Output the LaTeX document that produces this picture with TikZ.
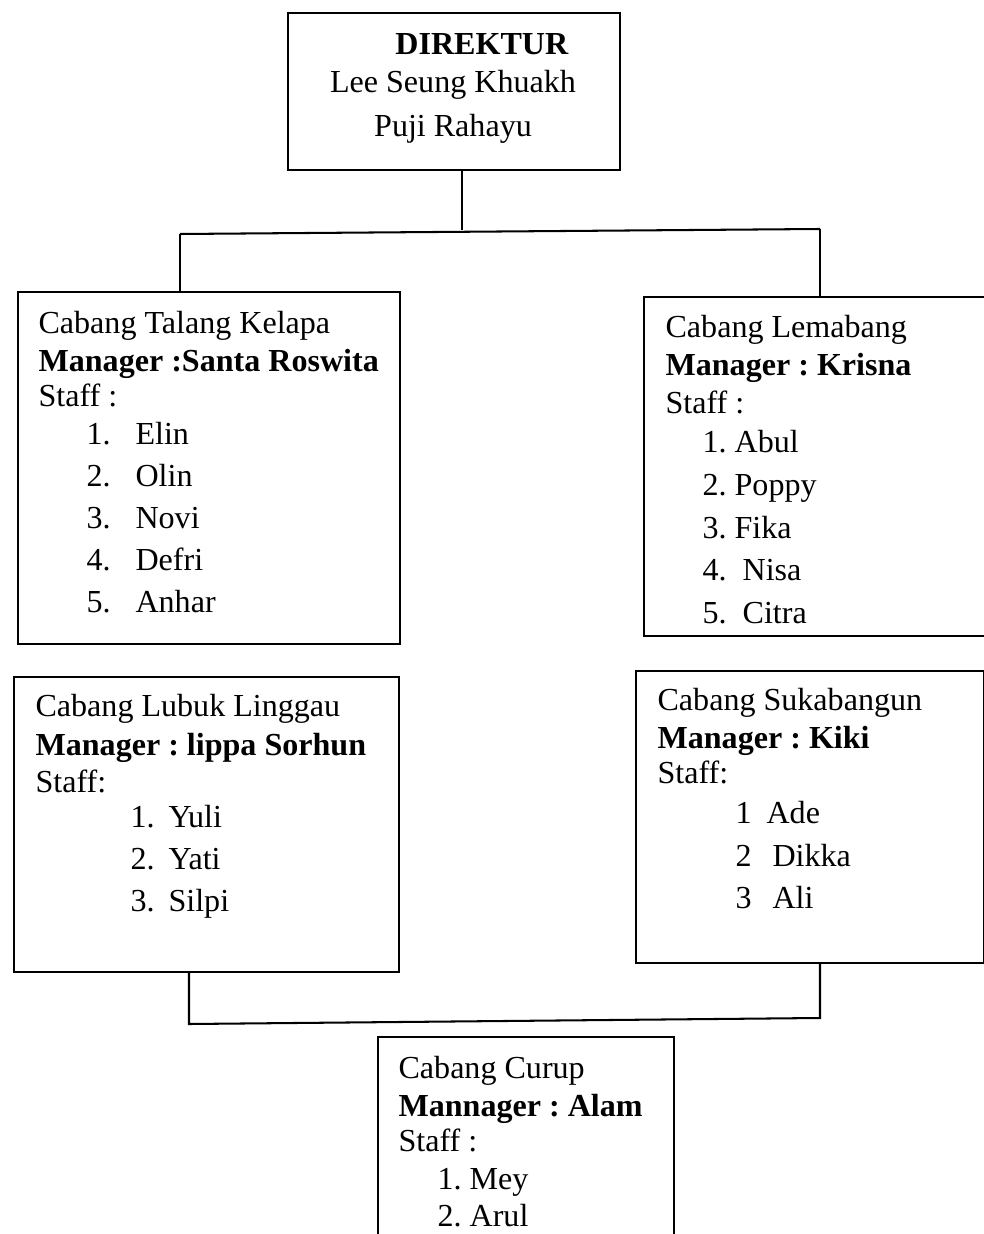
\documentclass[tikz,border=0pt]{standalone}
\usepackage{fontspec}
\setmainfont{Liberation Serif}
\usetikzlibrary{positioning}
\newdimen\px \px=0.343pt
\newcommand{\listrow}[4]{\hspace*{#1\px}\makebox[#2\px][l]{#3}#4}

\tikzset{
  branch/.style={draw, line width=0.7pt, anchor=north west, inner sep=0pt},
  lines/.style={anchor=north west, inner sep=0pt, align=left,
    font=\fontsize{11}{12.9}\selectfont\frenchspacing},
  link/.style={line width=0.7pt},
}

\begin{document}
\begin{tikzpicture}[x=0.343pt, y=-0.343pt]
		%%%%% START %%%%%
		\useasboundingbox (0,0) rectangle (984,1234);
		
		% direktur
		\node[branch, minimum width=332\px, minimum height=157\px] (direktur) at (287,12) {};
		\node[lines, align=center, anchor=north] (direktur-txt) at (453,33)
		  {\hspace*{58\px}\textbf{DIREKTUR}\\ Lee Seung Khuakh\\[2.2pt] Puji Rahayu};
		
		% cabang atas
		\node[branch, minimum width=382\px, minimum height=352\px] (talang) at (17,291) {};
		\node[lines] (talang-txt) at (38,311)
		  {Cabang Talang Kelapa\\ \textbf{Manager :Santa Roswita}\\[-1pt] Staff :\\[0.3pt]
		   \listrow{48}{49}{1.}{Elin}\\[1.5pt] \listrow{48}{49}{2.}{Olin}\\[1.5pt]
		   \listrow{48}{49}{3.}{Novi}\\[1.5pt] \listrow{48}{49}{4.}{Defri}\\[1.5pt]
		   \listrow{48}{49}{5.}{Anhar}};
		
		\node[branch, minimum width=350\px, minimum height=339\px] (lemabang) at (643,296) {};
		\node[lines] (lemabang-txt) at (665,315)
		  {Cabang Lemabang\\ \textbf{Manager : Krisna}\\ Staff :\\[0.8pt]
		   \hspace*{37\px}1. Abul\\[1.7pt] \hspace*{37\px}2. Poppy\\[1.7pt]
		   \hspace*{37\px}3. Fika\\[1.7pt] \hspace*{37\px}4.\ \ Nisa\\[1.7pt]
		   \hspace*{37\px}5.\ \ Citra};
		
		% cabang tengah
		\node[branch, minimum width=385\px, minimum height=295\px] (linggau) at (13,676) {};
		\node[lines] (linggau-txt) at (35,694)
		  {Cabang Lubuk Linggau\\[0.3pt] \textbf{Manager : lippa Sorhun}\\ Staff:\\[-0.9pt]
		   \listrow{95}{38}{1.}{Yuli}\\[1.2pt] \listrow{95}{38}{2.}{Yati}\\[1.5pt]
		   \listrow{95}{38}{3.}{Silpi}};
		
		\node[branch, minimum width=348\px, minimum height=292\px] (sukabangun) at (635,670) {};
		\node[lines] (sukabangun-txt) at (657,688)
		  {Cabang Sukabangun\\ \textbf{Manager : Kiki}\\[-0.9pt] Staff:\\[0.8pt]
		   \listrow{78}{31}{1}{Ade}\\[1.8pt] \listrow{78}{37}{2}{Dikka}\\[1.5pt]
		   \listrow{78}{37}{3}{Ali}};
		
		% cabang bawah
		\node[branch, minimum width=296\px, minimum height=240\px] (curup) at (377,1036) {};
		\node[lines] (curup-txt) at (398,1056)
		  {Cabang Curup\\ \textbf{Mannager : Alam}\\[-0.9pt] Staff :\\
		   \hspace*{39\px}1. Mey\\[-0.2pt] \hspace*{39\px}2. Arul};
		
		% garis
		\coordinate (split) at (462,230);
		\coordinate (splitL) at (180,234);
		\coordinate (splitR) at (820,229);
		\draw[link] (direktur.south -| split) -- (split);
		\draw[link] (splitL) -- (splitR);
		\draw[link] (splitL) -- (splitL |- talang.north);
		\draw[link] (splitR) -- (splitR |- lemabang.north);
		
		\coordinate (joinL) at (189,1024);
		\coordinate (joinR) at (820,1018);
		\draw[link] (linggau.south -| joinL) -- (joinL) -- (joinR) -- (joinR |- sukabangun.south);
		
		%%%%% END %%%%%
	\end{tikzpicture}
\end{document}
